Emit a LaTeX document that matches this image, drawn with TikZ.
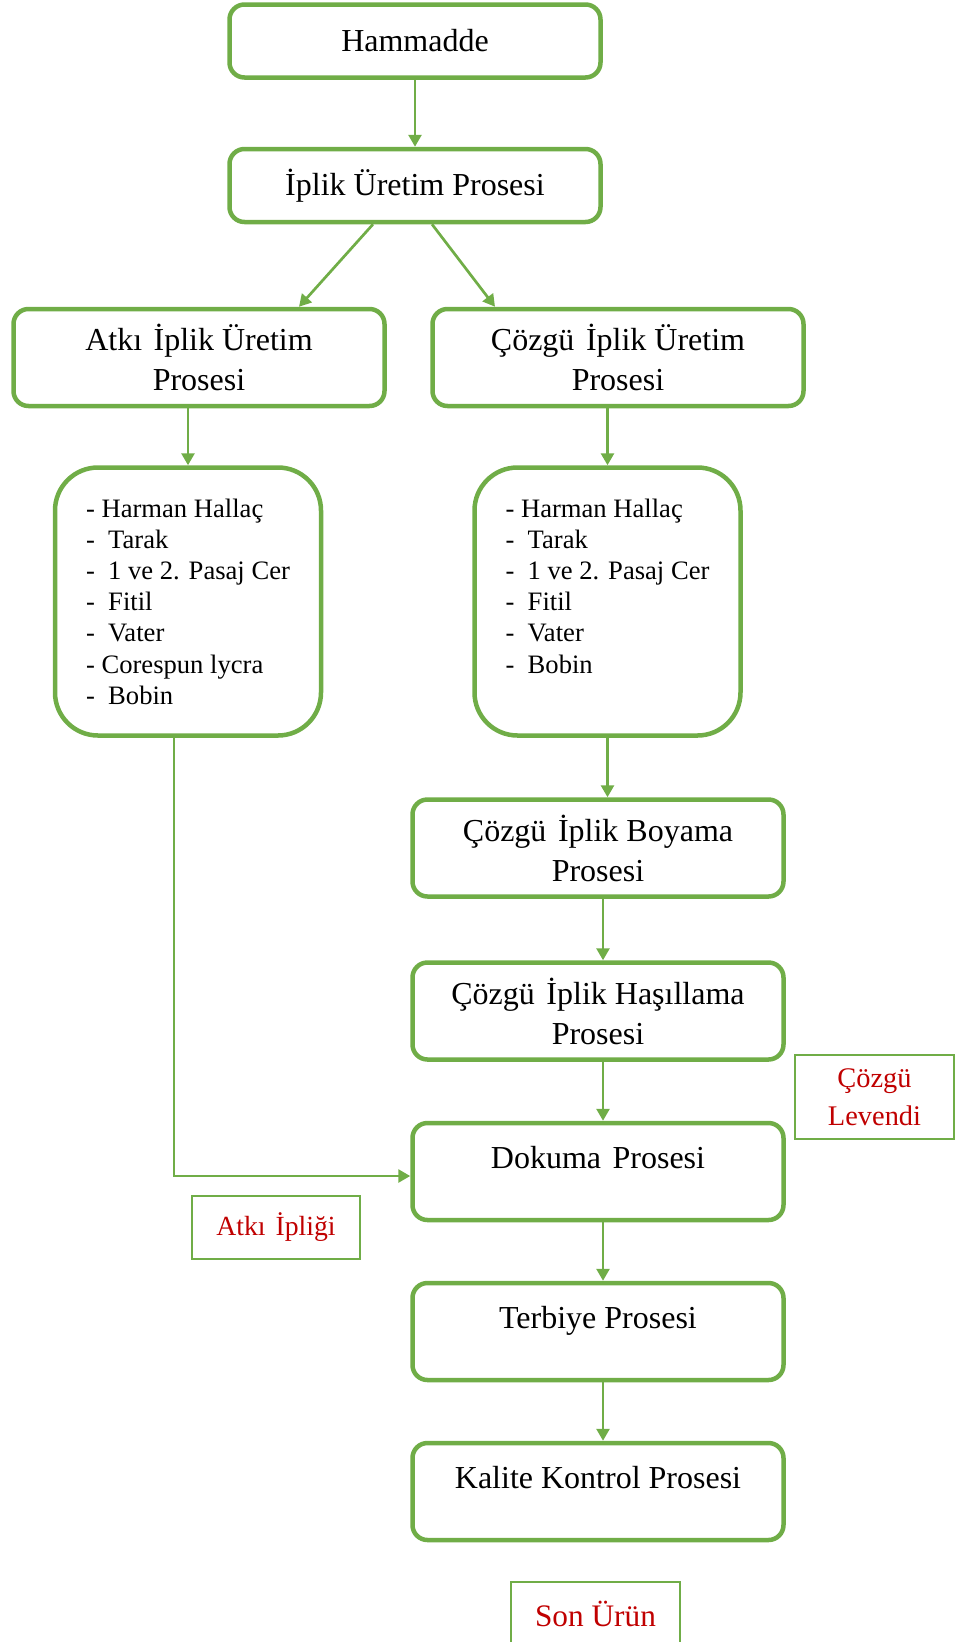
\documentclass[tikz,border=0pt]{standalone}
\usepackage{fontspec}
\setmainfont{Liberation Serif}
\usetikzlibrary{arrows.meta,positioning}
\definecolor{leaf}{HTML}{70AD47}
\definecolor{brick}{HTML}{C00000}
\newcommand{\gap}{\hspace{0.36em}}
\tikzset{
  proc/.style={draw=leaf, fill=white, line width=4.5pt, rounded corners=15pt, minimum width=371pt,
    align=center, font=\fontsize{32}{40}\selectfont},
  onerow/.style={minimum height=73pt},
  tworow/.style={minimum height=97pt},
  toptext/.style={text height=22pt, text depth=29pt},
  liste/.style={draw=leaf, fill=white, line width=4.5pt, rounded corners=43pt, minimum width=266pt,
    minimum height=268pt, align=left, font=\fontsize{26.6}{31.2}\selectfont},
  remark/.style={draw=leaf, line width=1.8pt, text=brick, align=center},
  flow/.style={-{Triangle[length=12pt,width=13pt]}, leaf, line width=2.7pt},
}
\begin{document}
\begin{tikzpicture}[x=1pt,y=-1pt]
  \useasboundingbox (0,0) rectangle (956,1642);

  % top of the chain
  \node[proc, onerow] (ham) at (415,41) {Hammadde};
  \node[proc, onerow] (ipl) at (415,185.5) {İplik Üretim Prosesi};

  % two yarn lines
  \node[proc, tworow] (atki) at (199,357.5) {Atkı\gap İplik Üretim\\Prosesi};
  \node[proc, tworow] (curet) at (618,357.5) {Çözgü\gap İplik Üretim\\Prosesi};
  \node[liste] (llist) at (188,601.5)
    {- Harman Hallaç\\-\ \ Tarak\\-\ \ 1 ve 2. Pasaj Cer\\-\ \ Fitil\\-\ \ Vater\\- Corespun lycra\\-\ \ Bobin};
  \node[liste] (rlist) at (607.5,601.5)
    {- Harman Hallaç\\-\ \ Tarak\\-\ \ 1 ve 2. Pasaj Cer\\-\ \ Fitil\\-\ \ Vater\\-\ \ Bobin\\~};

  % warp and weaving steps
  \node[proc, tworow] (boy) at (598,848) {Çözgü\gap İplik Boyama\\Prosesi};
  \node[proc, tworow] (has) at (598,1011) {Çözgü\gap İplik Haşıllama\\Prosesi};
  \node[proc, tworow, toptext] (dok) at (598,1171.5) {Dokuma\gap Prosesi};
  \node[proc, tworow, toptext] (ter) at (598,1331.5) {Terbiye Prosesi};
  \node[proc, tworow, toptext] (kal) at (598,1491.5) {Kalite Kontrol Prosesi};

  % red side notes
  \node[remark, minimum width=159pt, minimum height=84pt, font=\fontsize{28.4}{38}\selectfont]
    (lev) at (874.5,1097) {Çözgü\\Levendi};
  \node[remark, minimum width=168pt, minimum height=63pt, font=\fontsize{27.7}{34}\selectfont]
    (atip) at (276,1227.5) {Atkı\gap İpliği};
  \node[remark, minimum width=169pt, minimum height=64pt, font=\fontsize{31.3}{38}\selectfont]
    (son) at (595.5,1614) {Son Ürün};

  \draw[flow] (ham) -- (ipl);
  \draw[flow] ([xshift=-42pt]ipl.south) -- ([xshift=100pt]atki.north);
  \draw[flow] ([xshift=17pt]ipl.south) -- ([xshift=-123pt]curet.north);
  \draw[flow] (atki.south -| llist.north) -- (llist.north);
  \draw[flow] (curet.south -| rlist.north) -- (rlist.north);
  \draw[flow] (rlist.south) -- (rlist.south |- boy.north);
  \foreach \a/\b in {boy/has, has/dok, dok/ter, ter/kal}
    \draw[flow] ([xshift=5pt]\a.south) -- ([xshift=5pt]\b.north);
  \draw[flow] ([xshift=-14pt]llist.south) |- ([yshift=-4.5pt]dok.west);
\end{tikzpicture}
\end{document}
